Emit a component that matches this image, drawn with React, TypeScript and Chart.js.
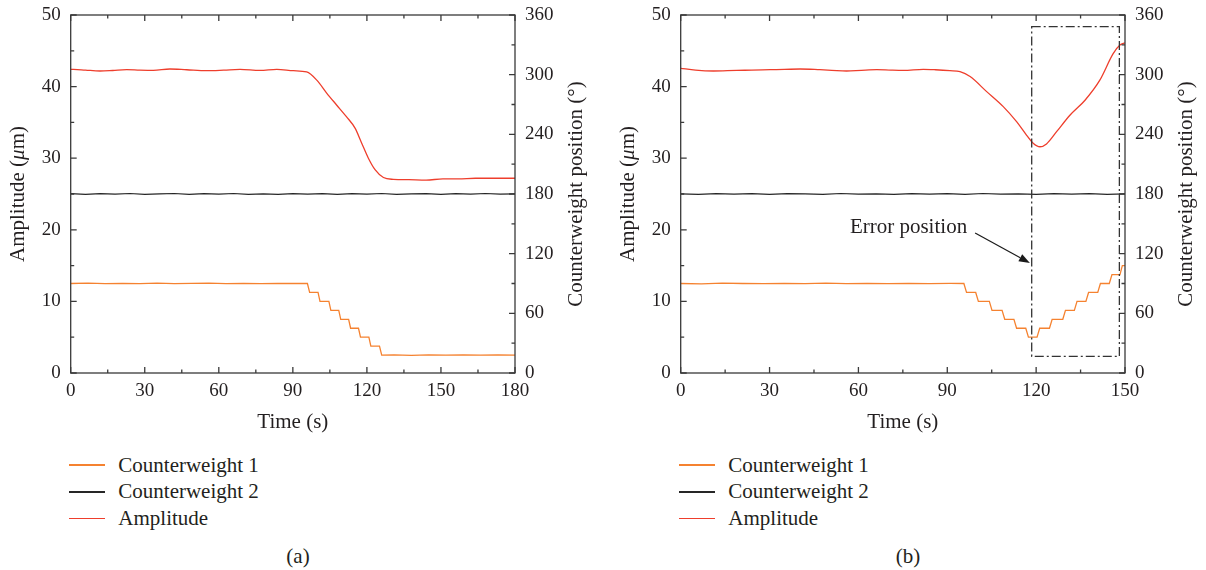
import React, { useEffect, useRef } from "react";
import { Chart, registerables } from "chart.js";

Chart.register(...registerables);

const FONT = "'Liberation Serif', 'Times New Roman', serif";
const TEXT_COLOR = "#231f20";
const AXIS_COLOR = "#3a3a3a";
const ORANGE = "#f58230";
const RED = "#ee3e2c";
const BLACK = "#262626";

// ---------- text ----------
const X_TITLE = "Time (s)";
const Y_TITLE_PARTS = ["Amplitude (", "\u03bc", "m)"];
const Y1_TITLE = "Counterweight position (\u00b0)";
const LEGEND_LABELS = ["Counterweight 1", "Counterweight 2", "Amplitude"];
const PANEL_LABELS = ["(a)", "(b)"];
const ERROR_TEXT = "Error position";

// ---------- axes ----------
const X_MAX_A = 180;
const X_MAX_B = 150;
const X_STEP = 30;
const Y_MAX = 50;
const Y_STEP = 10;
const Y1_MAX = 360;
const Y1_STEP = 60;

// ---------- panel (a) data ----------
const CW1_A_T = [0, 7, 14, 21, 28, 35, 42, 49, 56, 63, 70, 77, 84, 91, 95.9, 96.8, 100.2, 101.0, 104.6, 105.4, 108.6, 109.4, 112.6, 113.4, 116.6, 117.4, 120.8, 121.6, 125.1, 126.0, 131, 138, 145, 152, 159, 166, 173, 180];
const CW1_A_V = [90, 90.3, 89.8, 90.2, 89.9, 90.3, 89.8, 90.1, 90.3, 89.9, 90.2, 89.8, 90.2, 90, 90, 81, 81, 72, 72, 63, 63, 54, 54, 45, 45, 36, 36, 27, 27, 18, 18.3, 17.8, 18.2, 17.9, 18.3, 18, 18.2, 18];

const CW2_A_T = [0, 6, 12, 18, 24, 30, 36, 42, 48, 54, 60, 66, 72, 78, 84, 90, 96, 102, 108, 114, 120, 126, 132, 138, 144, 150, 156, 162, 168, 174, 180];
const CW2_A_V = [180.3, 179.6, 180.4, 179.8, 180.5, 179.7, 180.2, 180.5, 179.6, 180.3, 179.9, 180.5, 179.7, 180.2, 179.6, 180.4, 179.9, 180.3, 179.6, 180.4, 179.8, 180.5, 179.7, 180.2, 180.4, 179.7, 180.3, 179.8, 180.5, 179.9, 180.2];

const AMP_A_T = [0, 1.1, 6, 11.9, 17, 22.7, 28, 33.5, 40.2, 47, 55.1, 62, 68.6, 76.7, 83.5, 90.2, 95.6, 99.7, 103.7, 107.8, 111.7, 115.2, 117.9, 120.6, 123.3, 126.7, 130.7, 137, 144, 150.8, 157, 164, 172, 180];
const AMP_A_V = [42.4, 42.41, 42.3, 42.18, 42.25, 42.36, 42.3, 42.27, 42.46, 42.35, 42.22, 42.3, 42.41, 42.27, 42.41, 42.22, 42.04, 40.9, 39.1, 37.4, 35.8, 34.2, 32.1, 30.0, 28.4, 27.3, 27.05, 27.0, 26.95, 27.1, 27.1, 27.2, 27.2, 27.2];

// ---------- panel (b) data ----------
const CW1_B_T = [0, 7, 14, 21, 28, 35, 42, 49, 56, 63, 70, 77, 84, 91, 95.6, 96.5, 99.6, 100.5, 104.2, 105.1, 108.5, 109.4, 112.5, 113.4, 116.5, 117.4, 120.3, 121.2, 124.5, 125.4, 129.0, 129.9, 132.9, 133.8, 136.8, 137.7, 140.8, 141.7, 144.7, 145.6, 148.3, 149.1, 150];
const CW1_B_V = [90, 89.7, 90.3, 90, 89.8, 90.2, 89.9, 90.3, 89.8, 90.1, 89.9, 90.2, 89.8, 90.1, 90, 81, 81, 72, 72, 63, 63, 54, 54, 45, 45, 36, 36, 45, 45, 54, 54, 63, 63, 72, 72, 81, 81, 90, 90, 99, 99, 108, 108];

const CW2_B_T = [0, 6, 12, 18, 24, 30, 36, 42, 48, 54, 60, 66, 72, 78, 84, 90, 96, 102, 108, 114, 120, 126, 132, 138, 144, 150];
const CW2_B_V = [180.2, 179.7, 180.4, 179.8, 180.3, 179.6, 180.4, 180.1, 179.7, 180.5, 179.8, 180.2, 179.6, 180.4, 179.9, 180.3, 179.7, 180.5, 179.8, 180.2, 179.6, 180.4, 179.9, 180.3, 179.7, 180.2];

const AMP_B_T = [0, 5, 11, 18.9, 24, 30.2, 35, 40.3, 47, 51, 56, 61, 66.2, 71, 75.2, 81.9, 86, 90.9, 94.3, 97.7, 103.3, 108.9, 113.4, 116.8, 119.0, 121.3, 123.5, 126.9, 131.4, 136.5, 141.5, 146, 148.3, 150];
const AMP_B_V = [42.55, 42.3, 42.18, 42.27, 42.3, 42.36, 42.4, 42.46, 42.36, 42.28, 42.18, 42.28, 42.36, 42.3, 42.27, 42.41, 42.35, 42.22, 42.08, 41.4, 39.3, 37.2, 35.1, 33.2, 32.1, 31.6, 32.0, 33.7, 36.0, 38.1, 40.9, 44.6, 45.8, 46.1];

// ---------- annotation of panel (b), in data units (time s, amplitude um) ----------
const ERROR_TEXT_AT = [96.7, 20.39];
const ERROR_ARROW_FROM = [99.4, 19.54];
const ERROR_ARROW_TO = [117.9, 15.35];
const ERROR_BOX_X = [118.5, 148.1];
const ERROR_BOX_Y = [2.32, 48.37];

// ---------- layout ----------
const CANVAS_W = 603;
const CANVAS_H = 440;
const PLOT_TOP = 15;
const X_AXIS_H = 67;

const pts = (t: number[], v: number[]) => t.map((x, i) => ({ x, y: v[i] }));

const noScalePadding = (s: any) => {
  s.paddingTop = 0;
  s.paddingBottom = 0;
  s.paddingLeft = 0;
  s.paddingRight = 0;
};

const frameTicksPlugin = {
  id: "frameTicks",
  afterDatasetsDraw(chart: any) {
    const { ctx, chartArea: a, scales } = chart;
    const major = 6;
    const minor = 3.5;
    ctx.save();
    ctx.strokeStyle = AXIS_COLOR;
    ctx.lineWidth = 1.3;
    ctx.strokeRect(a.left, a.top, a.right - a.left, a.bottom - a.top);
    ctx.beginPath();
    const xs = scales.x;
    const xt = xs.ticks.map((t: any) => t.value);
    const xMarks: [number, number][] = [];
    xt.forEach((v: number, i: number) => {
      xMarks.push([v, major]);
      if (i < xt.length - 1) xMarks.push([(v + xt[i + 1]) / 2, minor]);
    });
    xMarks.forEach(([v, len]) => {
      const px = xs.getPixelForValue(v);
      ctx.moveTo(px, a.bottom);
      ctx.lineTo(px, a.bottom - len);
      ctx.moveTo(px, a.top);
      ctx.lineTo(px, a.top + len);
    });
    const yMarks = (scale: any, edge: number, dir: number) => {
      const vals = scale.ticks.map((t: any) => t.value);
      vals.forEach((v: number, i: number) => {
        const py = scale.getPixelForValue(v);
        ctx.moveTo(edge, py);
        ctx.lineTo(edge + dir * major, py);
        if (i < vals.length - 1) {
          const pm = scale.getPixelForValue((v + vals[i + 1]) / 2);
          ctx.moveTo(edge, pm);
          ctx.lineTo(edge + dir * minor, pm);
        }
      });
    };
    yMarks(scales.y, a.left, 1);
    yMarks(scales.y1, a.right, -1);
    ctx.stroke();

    // rotated axis titles
    const cy = (a.top + a.bottom) / 2;
    const normal = `21px ${FONT}`;
    const italic = `italic 21px ${FONT}`;
    ctx.fillStyle = TEXT_COLOR;
    ctx.textBaseline = "middle";
    ctx.textAlign = "left";
    // left title with italic mu
    ctx.save();
    ctx.translate(a.left - 52.4, cy);
    ctx.rotate(-Math.PI / 2);
    const fonts = [normal, italic, normal];
    const widths = Y_TITLE_PARTS.map((s, i) => {
      ctx.font = fonts[i];
      return ctx.measureText(s).width;
    });
    let x = -widths.reduce((p, c) => p + c, 0) / 2;
    Y_TITLE_PARTS.forEach((s, i) => {
      ctx.font = fonts[i];
      ctx.fillText(s, x, 0);
      x += widths[i];
    });
    ctx.restore();
    // right title (reads bottom to top)
    ctx.save();
    ctx.translate(a.right + 61.7, cy);
    ctx.rotate(-Math.PI / 2);
    ctx.font = normal;
    ctx.textAlign = "center";
    ctx.fillText(Y1_TITLE, 0, 0);
    ctx.restore();
    ctx.restore();
  },
};

const errorPlugin = {
  id: "errorBox",
  afterDatasetsDraw(chart: any) {
    const { ctx, scales } = chart;
    const xs = scales.x;
    const ys = scales.y;
    const X = (v: number) => xs.getPixelForValue(v);
    const Y = (v: number) => ys.getPixelForValue(v);
    ctx.save();
    ctx.strokeStyle = "#333333";
    ctx.lineWidth = 1.3;
    ctx.setLineDash([9, 3, 2, 3]);
    const l = X(ERROR_BOX_X[0]);
    const r = X(ERROR_BOX_X[1]);
    const t = Y(ERROR_BOX_Y[1]);
    const b = Y(ERROR_BOX_Y[0]);
    ctx.strokeRect(l, t, r - l, b - t);
    ctx.setLineDash([]);
    // arrow
    const x0 = X(ERROR_ARROW_FROM[0]);
    const y0 = Y(ERROR_ARROW_FROM[1]);
    const x1 = X(ERROR_ARROW_TO[0]);
    const y1 = Y(ERROR_ARROW_TO[1]);
    const ang = Math.atan2(y1 - y0, x1 - x0);
    const hl = 11;
    const hw = 4;
    const bx = x1 - hl * Math.cos(ang);
    const by = y1 - hl * Math.sin(ang);
    ctx.strokeStyle = "#1a1a1a";
    ctx.lineWidth = 1.2;
    ctx.beginPath();
    ctx.moveTo(x0, y0);
    ctx.lineTo(bx, by);
    ctx.stroke();
    ctx.fillStyle = "#1a1a1a";
    ctx.beginPath();
    ctx.moveTo(x1, y1);
    ctx.lineTo(bx + hw * Math.sin(ang), by - hw * Math.cos(ang));
    ctx.lineTo(bx - hw * Math.sin(ang), by + hw * Math.cos(ang));
    ctx.closePath();
    ctx.fill();
    // text
    ctx.font = `21px ${FONT}`;
    ctx.fillStyle = TEXT_COLOR;
    ctx.textAlign = "right";
    ctx.textBaseline = "middle";
    ctx.fillText(ERROR_TEXT, X(ERROR_TEXT_AT[0]), Y(ERROR_TEXT_AT[1]));
    ctx.restore();
  },
};

type PanelProps = {
  left: number;
  xMax: number;
  yW: number;
  y1W: number;
  cw1T: number[];
  cw1V: number[];
  cw2T: number[];
  cw2V: number[];
  ampT: number[];
  ampV: number[];
  annotate: boolean;
};

function Panel(p: PanelProps) {
  const ref = useRef<HTMLCanvasElement>(null);
  useEffect(() => {
    const tickFont = { family: FONT, size: 19 };
    const chart = new Chart(ref.current as HTMLCanvasElement, {
      type: "line",
      data: {
        datasets: [
          { label: LEGEND_LABELS[0], data: pts(p.cw1T, p.cw1V), yAxisID: "y1", borderColor: ORANGE, borderWidth: 1.3, pointRadius: 0, tension: 0 },
          { label: LEGEND_LABELS[1], data: pts(p.cw2T, p.cw2V), yAxisID: "y1", borderColor: BLACK, borderWidth: 1.2, pointRadius: 0, tension: 0 },
          { label: LEGEND_LABELS[2], data: pts(p.ampT, p.ampV), yAxisID: "y", borderColor: RED, borderWidth: 1.3, pointRadius: 0, cubicInterpolationMode: "monotone" },
        ],
      } as any,
      options: {
        responsive: false,
        animation: false,
        devicePixelRatio: 1,
        events: [],
        layout: { padding: { top: PLOT_TOP, left: 0, right: 0, bottom: 0 } },
        plugins: { legend: { display: false }, tooltip: { enabled: false } },
        scales: {
          x: {
            type: "linear",
            min: 0,
            max: p.xMax,
            ticks: { stepSize: X_STEP, font: tickFont, color: TEXT_COLOR, padding: 7, maxRotation: 0, autoSkip: false },
            grid: { display: false, drawTicks: false },
            border: { display: false },
            title: { display: true, text: X_TITLE, font: { family: FONT, size: 21 }, color: TEXT_COLOR, padding: { top: 0, bottom: 4.7 } },
            afterFit: (s: any) => { s.height = X_AXIS_H; noScalePadding(s); },
          },
          y: {
            type: "linear",
            position: "left",
            min: 0,
            max: Y_MAX,
            ticks: { stepSize: Y_STEP, font: tickFont, color: TEXT_COLOR, padding: 10 },
            grid: { display: false, drawTicks: false },
            border: { display: false },
            afterFit: (s: any) => { s.width = p.yW; noScalePadding(s); },
          },
          y1: {
            type: "linear",
            position: "right",
            min: 0,
            max: Y1_MAX,
            ticks: { stepSize: Y1_STEP, font: tickFont, color: TEXT_COLOR, padding: 10 },
            grid: { display: false, drawTicks: false },
            border: { display: false },
            afterFit: (s: any) => { s.width = p.y1W; noScalePadding(s); },
          },
        },
      } as any,
      plugins: p.annotate ? [frameTicksPlugin, errorPlugin] : [frameTicksPlugin],
    });
    return () => chart.destroy();
  }, []);
  return (
    <canvas
      ref={ref}
      width={CANVAS_W}
      height={CANVAS_H}
      style={{ position: "absolute", left: p.left, top: 0, width: CANVAS_W, height: CANVAS_H }}
    />
  );
}

const LEGEND_COLORS = [ORANGE, BLACK, RED];
const LEGEND_ROWS_Y = [465.2, 491.9, 518.6];

function Legend(props: { plotLeft: number; label: string }) {
  const { plotLeft, label } = props;
  const textStyle: React.CSSProperties = {
    position: "absolute",
    fontFamily: FONT,
    fontSize: 21,
    lineHeight: "26.7px",
    color: TEXT_COLOR,
    whiteSpace: "nowrap",
  };
  return (
    <>
      {LEGEND_LABELS.map((name, i) => (
        <React.Fragment key={name}>
          <div
            style={{
              position: "absolute",
              left: plotLeft - 1.4,
              top: LEGEND_ROWS_Y[i] - 0.75,
              width: 36,
              height: 1.5,
              background: LEGEND_COLORS[i],
            }}
          />
          <div style={{ ...textStyle, left: plotLeft + 47.6, top: LEGEND_ROWS_Y[i] - 13.6 }}>{name}</div>
        </React.Fragment>
      ))}
      <div style={{ ...textStyle, left: plotLeft + 227.3 - 50, width: 100, textAlign: "center", top: 543 }}>{label}</div>
    </>
  );
}

export default function App() {
  return (
    <div
      style={{
        position: "absolute",
        left: 0,
        top: 0,
        width: 1206,
        height: 570,
        background: "#ffffff",
        overflow: "hidden",
      }}
    >
      <Panel
        left={0}
        xMax={X_MAX_A}
        yW={70.7}
        y1W={CANVAS_W - 515}
        cw1T={CW1_A_T}
        cw1V={CW1_A_V}
        cw2T={CW2_A_T}
        cw2V={CW2_A_V}
        ampT={AMP_A_T}
        ampV={AMP_A_V}
        annotate={false}
      />
      <Panel
        left={603}
        xMax={X_MAX_B}
        yW={680.7 - 603}
        y1W={CANVAS_W - (1125 - 603)}
        cw1T={CW1_B_T}
        cw1V={CW1_B_V}
        cw2T={CW2_B_T}
        cw2V={CW2_B_V}
        ampT={AMP_B_T}
        ampV={AMP_B_V}
        annotate={true}
      />
      <Legend plotLeft={70.7} label={PANEL_LABELS[0]} />
      <Legend plotLeft={680.7} label={PANEL_LABELS[1]} />
    </div>
  );
}
